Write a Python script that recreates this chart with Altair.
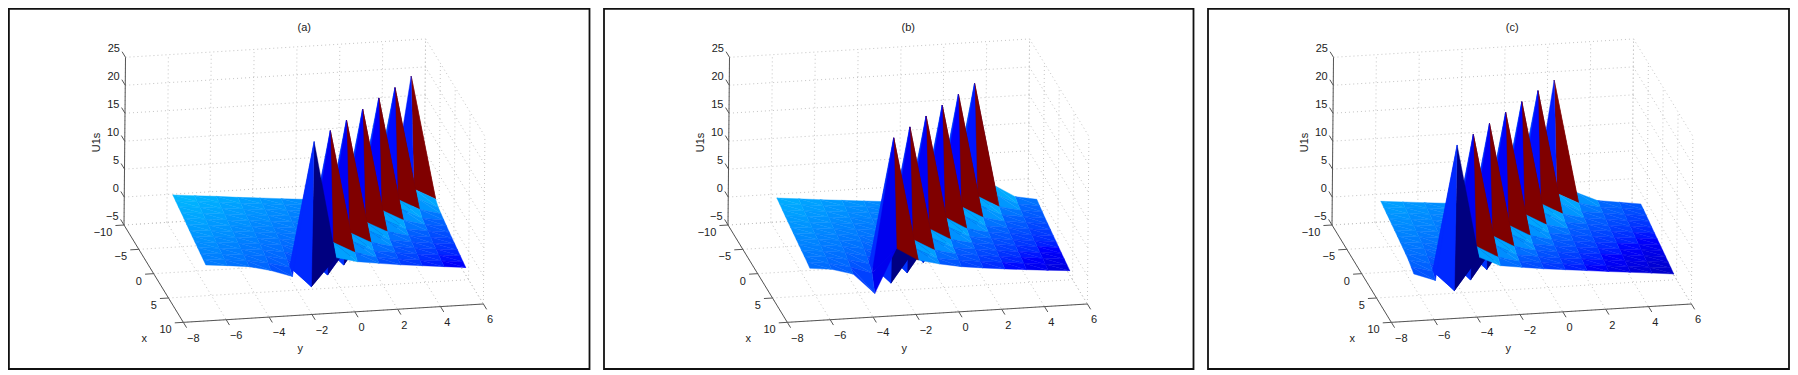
import altair as alt
import pandas as pd

alt.data_transformers.disable_max_rows()

x_vals = [-8.0, -7.073, -6.146, -5.219, -4.292, -3.365, -2.438, -1.511, -0.584, 0.343, 1.27, 2.197, 3.124]
y_vals = [-6.0, -4.989, -3.978, -2.967, -1.956, -0.945, 0.066, 1.077, 2.088, 3.099, 4.11, 5.121, 6.132]

U_a = [
    [1.64, 1.28, .93, .51, .16, -.20, -.55, -.90, -1.32, -2.25, -3.55, 20.3, .25],
    [1.41, 1.05, .67, .28, -.07, -.42, -.77, -1.15, -1.8, -2.8, -7, .91, -1.1],
    [1.17, .82, .40, .05, -.31, -.66, -1.01, -1.43, -2.36, -3.66, 20.1, .16, -1.81],
    [.94, .56, .17, -.18, -.53, -.88, -1.26, -1.91, -2.91, -7, .92, -1.1, -2.14],
    [.71, .29, -.06, -.42, -.77, -1.12, -1.54, -2.47, -3.77, 20.1, .07, -1.90, -2.44],
    [.45, .06, -.29, -.64, -.99, -1.37, -2.02, -3.02, -7, .86, -1.17, -2.23, -2.73],
    [.19, -.16, -.52, -.87, -1.22, -1.64, -2.57, -3.87, 19.97, -.02, -1.99, -2.53, -3.03],
    [-.05, -.40, -.75, -1.10, -1.48, -2.13, -3.13, -6.9, .62, -1.37, -2.32, -2.82, -3.28],
    [-.27, -.63, -.98, -1.33, -1.75, -2.68, -3.98, 19.85, -.11, -2.08, -2.62, -3.12, -3.52],
    [-.51, -.86, -1.21, -1.59, -2.24, -3.24, -6.83, .57, -1.46, -2.41, -2.91, -3.37, -3.77],
    [-.74, -1.09, -1.44, -1.86, -2.79, -4.09, 19.8, -.2, -2.17, -2.71, -3.21, -3.61, -4.01],
    [-.96, -1.31, -1.69, -2.34, -3.34, -7.07, .63, -1.4, -2.5, -3.0, -3.46, -3.86, -4.26],
    [-1.2, -1.55, -1.97, -2.9, -4.2, 19.7, -1.3, -2.26, -2.8, -3.3, -3.7, -4.1, -4.5],
]
U_b = [
    [1.10, .72, .33, -.02, -.37, -.72, -1.10, -1.75, -2.75, -7, 1.06, -1.26, -1.97],
    [.88, .46, .11, -.25, -.60, -.95, -1.37, -2.30, -3.60, 20.3, .20, -1.77, -2.31],
    [.61, .22, -.13, -.48, -.83, -1.21, -1.86, -2.86, -7, .94, -1.2, -2.09, -2.59],
    [.35, 0, -.36, -.71, -1.06, -1.48, -2.41, -3.71, 20.2, .11, -1.86, -2.40, -2.90],
    [.11, -.24, -.59, -.94, -1.32, -1.97, -2.97, -7, .9, -1.26, -2.18, -2.68, -3.14],
    [-.11, -.47, -.82, -1.17, -1.59, -2.52, -3.82, 20.1, .02, -1.95, -2.49, -2.99, -3.39],
    [-.34, -.69, -1.04, -1.42, -2.07, -3.07, -7, .85, -1.4, -2.27, -2.77, -3.23, -3.63],
    [-.58, -.93, -1.28, -1.70, -2.63, -3.93, 20, -.07, -2.04, -2.58, -3.08, -3.48, -3.88],
    [-.80, -1.15, -1.53, -2.18, -3.18, -7, .7, -1.5, -2.36, -2.86, -3.32, -3.72, -4.12],
    [-1.04, -1.39, -1.81, -2.74, -4.04, 19.9, -.16, -2.13, -2.67, -3.17, -3.57, -3.97, -4.37],
    [-1.26, -1.64, -2.29, -3.29, -7, .6, -1.55, -2.45, -2.95, -3.41, -3.81, -4.21, -4.6],
    [-1.49, -1.91, -2.84, -4.14, 19.8, -.25, -2.22, -2.76, -3.26, -3.66, -4.06, -4.46, -4.83],
    [-1.79, -2.2, -3.3, -7, .83, -1.5, -2.44, -3.15, -3.63, -4.04, -4.4, -4.76, -5.05],
]
U_c = [
    [.51, .16, -.20, -.55, -.90, -1.32, -2.25, -3.55, 20.3, 0, -1.72, -2.26, -2.8],
    [.28, -.07, -.42, -.77, -1.15, -1.8, -2.8, -7, .85, -1.1, -2.05, -2.55, -3.01],
    [.05, -.31, -.66, -1.01, -1.43, -2.36, -3.66, 20.26, .16, -1.81, -2.35, -2.85, -3.25],
    [-.18, -.53, -.88, -1.26, -1.91, -2.91, -7, .9, -1.19, -2.14, -2.64, -3.10, -3.50],
    [-.42, -.77, -1.12, -1.54, -2.47, -3.77, 20.14, .07, -1.90, -2.44, -2.94, -3.34, -3.74],
    [-.64, -.99, -1.37, -2.02, -3.02, -7, .85, -1.28, -2.23, -2.73, -3.19, -3.59, -3.99],
    [-.87, -1.22, -1.64, -2.57, -3.87, 20.09, -.02, -1.99, -2.53, -3.03, -3.43, -3.83, -4.23],
    [-1.10, -1.48, -2.13, -3.13, -7, .75, -1.37, -2.32, -2.82, -3.28, -3.68, -4.08, -4.47],
    [-1.33, -1.75, -2.68, -3.98, 19.96, -.11, -2.08, -2.62, -3.12, -3.52, -3.92, -4.32, -4.69],
    [-1.59, -2.24, -3.24, -7, .7, -1.46, -2.41, -2.91, -3.37, -3.77, -4.17, -4.56, -4.92],
    [-1.86, -2.79, -4.09, 19.85, -.2, -2.17, -2.71, -3.21, -3.61, -4.01, -4.41, -4.78, -5.15],
    [-2.34, -3.34, -7.07, .65, -1.5, -2.5, -3.0, -3.46, -3.86, -4.26, -4.65, -5.02, -5.4],
    [-2.8, -4.2, 19.8, -.5, -2.26, -2.8, -3.3, -3.7, -4.1, -4.5, -4.87, -5.25, -5.65],
]
panels = [("(a)", U_a), ("(b)", U_b), ("(c)", U_c)]
x_ticks = [-10, -5, 0, 5, 10]
y_ticks = [-8, -6, -4, -2, 0, 2, 4, 6]
z_ticks = [-5, 0, 5, 10, 15, 20, 25]
clim = (-7.07, 19.7)
jet_stops = [0, .125, .47, .625, .875, 1]
jet_colors = ["#000080", "#0000ff", "#00ffff", "#ffff00", "#ff0000", "#800000"]


def proj(x, y, z, p, shear=0.0):
    sx = 192 + 8.9 * (x + 10) + 64.3 * (y + 8) + shear * (z + 5)
    sy = 675 + 14.6 * (x + 10) - 3.93 * (y + 8) - 16.77 * (z + 5)
    return 60 + sx / 3 + 604 * p, sy / 3


def label(v):
    return ("\u2212" + str(-v)) if v < 0 else str(v)


polys, grid, axes, xl, yl, zl = [], [], [], [], [], []
pid = 0
for p, (name, U) in enumerate(panels):
    def seg(rows, a, b, shear=0.15):
        x1, y1 = proj(*a, p, shear)
        x2, y2 = proj(*b, p, shear)
        rows.append(dict(px=x1, py=y1, px2=x2, py2=y2))

    for z in z_ticks:
        seg(grid, (-10, -8, z), (-10, 6, z))
        seg(grid, (-10, 6, z), (10, 6, z))
    for y in y_ticks:
        seg(grid, (-10, y, -5), (-10, y, 25))
        seg(grid, (-10, y, -5), (10, y, -5))
    for x in x_ticks:
        seg(grid, (x, 6, -5), (x, 6, 25))
        seg(grid, (x, -8, -5), (x, 6, -5))

    seg(axes, (-10, -8, -5), (-10, -8, 25))
    seg(axes, (-10, -8, -5), (10, -8, -5))
    seg(axes, (10, -8, -5), (10, 6, -5))
    for z in z_ticks:
        seg(axes, (-10, -8, z), (-11.15, -8, z))
        px, py = proj(-10, -8, z, p, .15)
        zl.append(dict(px=px, py=py, t=label(z)))
    for y in y_ticks:
        seg(axes, (10, y, -5), (11.1, y, -5))
        px, py = proj(10, y, -5, p, .15)
        yl.append(dict(px=px, py=py, t=label(y)))
    for x in x_ticks:
        seg(axes, (x, -8, -5), (x, -8.4, -5))
        px, py = proj(x, -8, -5, p, .15)
        xl.append(dict(px=px, py=py, t=label(x)))

    # surface: back rows first, far columns first, two triangles per cell
    for i in range(len(x_vals) - 1):
        for j in range(len(y_vals) - 2, -1, -1):
            shade = min(1.0, max(0.0, (U[i][j] - clim[0]) / (clim[1] - clim[0])))
            tris = [
                [(i, j), (i, j + 1), (i + 1, j + 1)],
                [(i, j), (i + 1, j + 1), (i + 1, j)],
            ]
            for tri in tris:
                for k, (a, b) in enumerate(tri + [tri[0]]):
                    px, py = proj(x_vals[a], y_vals[b], U[a][b], p)
                    polys.append(dict(id=pid, k=k, px=px, py=py, shade=shade))
                pid += 1

frames = pd.DataFrame({
    "px": [8.9, 604, 1208],
    "px2": [589.5, 1193.5, 1789.0],
    "py": [8.9, 8.9, 8.9],
    "py2": [369.0, 369.0, 369.0],
})
title_rows, xname_rows, yname_rows, zname_rows = [], [], [], []
for p, (name, _) in enumerate(panels):
    px, py = proj(-10, -8, 25, p, .15)
    title_rows.append(dict(px=px, py=py, t=name))
    px, py = proj(10, -8, -5, p, .15)
    xname_rows.append(dict(px=px, py=py, t="x"))
    px, py = proj(10, -1, -5, p, .15)
    yname_rows.append(dict(px=px, py=py, t="y"))
    px, py = proj(-10, -8, 10, p, .15)
    zname_rows.append(dict(px=px, py=py, t="U1s"))

xs = alt.Scale(domain=[8, 1790], nice=False, zero=False)
ys = alt.Scale(domain=[8, 370], nice=False, zero=False, reverse=True)
X = alt.X("px:Q", axis=None, scale=xs)
Y = alt.Y("py:Q", axis=None, scale=ys)
INK = "#222222"
FONT = "Liberation Sans"

frame_layer = alt.Chart(frames).mark_rect(fill="white", stroke="#111111", strokeWidth=1.8).encode(
    x=X, x2="px2:Q", y=Y, y2="py2:Q")
grid_layer = alt.Chart(pd.DataFrame(grid)).mark_rule(
    color="#c4c4c4", strokeWidth=1, strokeDash=[1, 3]).encode(x=X, x2="px2:Q", y=Y, y2="py2:Q")
axes_layer = alt.Chart(pd.DataFrame(axes)).mark_rule(color="#555555", strokeWidth=1).encode(
    x=X, x2="px2:Q", y=Y, y2="py2:Q")
jet = alt.Scale(domain=jet_stops, range=jet_colors)
surface = alt.Chart(pd.DataFrame(polys)).mark_line(strokeWidth=0.4, strokeJoin="round").encode(
    x=X, y=Y, detail="id:N", order="k:Q",
    fill=alt.Fill("shade:Q", scale=jet, legend=None),
    stroke=alt.Stroke("shade:Q", scale=jet, legend=None),
)


def texts(rows, **kw):
    return alt.Chart(pd.DataFrame(rows)).mark_text(
        font=FONT, fontSize=11, color=INK, baseline="middle", **kw
    ).encode(x=X, y=Y, text="t:N")


chart = alt.layer(
    frame_layer, grid_layer, surface, axes_layer,
    texts(zl, align="right", dx=-5.5, dy=-8.3),
    texts(yl, align="left", dx=3.7, dy=16.3),
    texts(xl, align="right", dx=-11.7, dy=8),
    texts(title_rows, align="center", dx=178.7, dy=-29),
    texts(xname_rows, align="center", dx=-39, dy=17),
    texts(yname_rows, align="center", dx=-33, dy=36),
    texts(zname_rows, align="center", dx=-1.3, dy=-27.7, angle=270),
).properties(
    width=1782, height=362, padding=0,
    autosize=alt.AutoSizeParams(type="none"),
).configure_view(stroke=None)

chart.save("out.html", embed_options={"renderer": "svg", "actions": False})
